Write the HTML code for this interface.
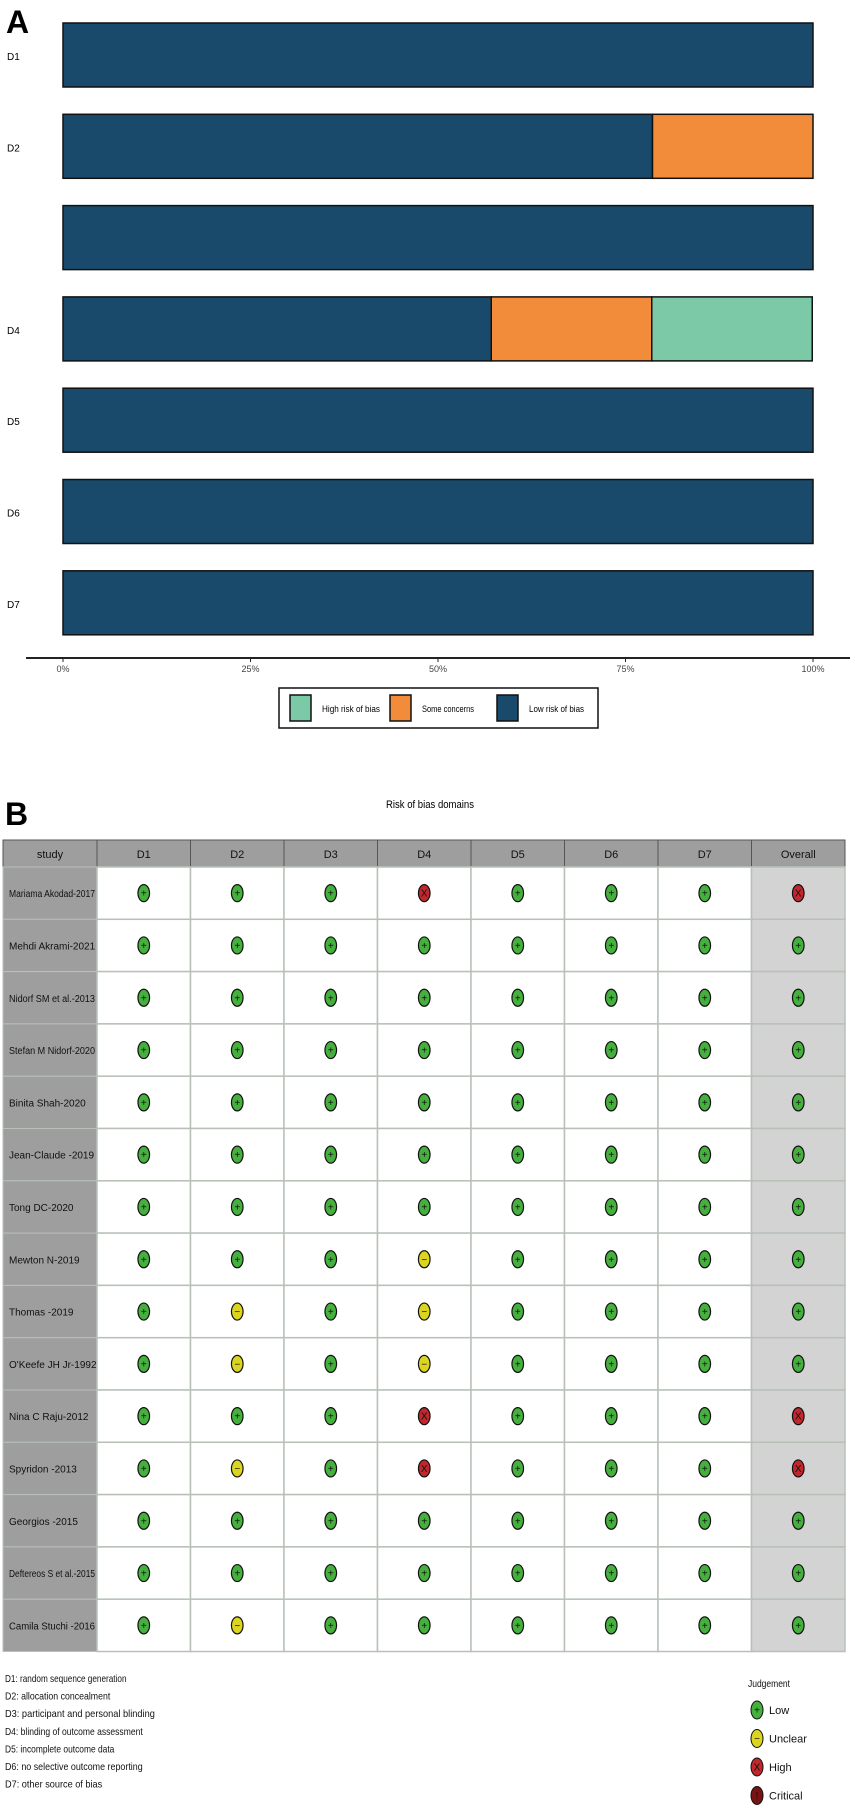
<!DOCTYPE html>
<html><head><meta charset="utf-8"><style>
html,body{margin:0;padding:0;background:#fff;}
svg{display:block;font-family:"Liberation Sans",sans-serif;}
</style></head><body>
<svg id="fig" width="855" height="1811" viewBox="0 0 855 1811" xmlns="http://www.w3.org/2000/svg">
<text x="6" y="33" font-size="32" font-weight="bold">A</text>
<g id="barsA"></g>
<line x1="26" y1="658" x2="850" y2="658" stroke="#222" stroke-width="2"/>
<g id="ticksA"></g>
<g>
<rect x="279" y="688" width="319" height="40" fill="#fff" stroke="#111" stroke-width="1.5"/>
<rect x="290" y="695" width="21" height="26" fill="#7cc9a8" stroke="#111" stroke-width="1.5"/>
<text x="322" y="712" font-size="9" textLength="58" lengthAdjust="spacingAndGlyphs">High risk of bias</text>
<rect x="390" y="695" width="21" height="26" fill="#f28b3a" stroke="#111" stroke-width="1.5"/>
<text x="422" y="712" font-size="9" textLength="52" lengthAdjust="spacingAndGlyphs">Some concerns</text>
<rect x="497" y="695" width="21" height="26" fill="#1a4a6b" stroke="#111" stroke-width="1.5"/>
<text x="529" y="712" font-size="9" textLength="55" lengthAdjust="spacingAndGlyphs">Low risk of bias</text>
</g>
<text x="5" y="825" font-size="32" font-weight="bold">B</text>
<text x="430" y="808" font-size="11" text-anchor="middle" textLength="88" lengthAdjust="spacingAndGlyphs">Risk of bias domains</text>
<g id="table"></g>
<g id="defs-legend"></g>
<g id="judge"></g>
</svg>
<script>
const NS="http://www.w3.org/2000/svg";
// Panel A data
const domainsA=["D1","D2","D3","D4","D5","D6","D7"];
const domainLabelsA=["D1","D2","","D4","D5","D6","D7"];
const lowPct=[100,78.6,100,57.1,100,100,100];
const somePct=[0,21.4,0,21.4,0,0,0];
const highPct=[0,0,0,21.4,0,0,0];
const tickVals=[0,25,50,75,100];
const tickLabels=["0%","25%","50%","75%","100%"];
// Panel B data
const studies=["Mariama Akodad-2017","Mehdi Akrami-2021","Nidorf SM  et al.-2013","Stefan M Nidorf-2020","Binita Shah-2020","Jean-Claude -2019","Tong DC-2020","Mewton N-2019","Thomas -2019","O'Keefe JH Jr-1992","Nina C Raju-2012","Spyridon -2013","Georgios -2015","Deftereos S et al.-2015","Camila Stuchi -2016"];
const columns=["D1","D2","D3","D4","D5","D6","D7","Overall"];
const judgements=[
"LLLHLLLH","LLLLLLLL","LLLLLLLL","LLLLLLLL","LLLLLLLL","LLLLLLLL","LLLLLLLL",
"LLLULLLL","LULULLLL","LULULLLL","LLLHLLLH","LULHLLLH","LLLLLLLL","LLLLLLLL","LULLLLLL"];
const defs=["D1: random sequence generation","D2: allocation concealment","D3: participant and personal blinding","D4: blinding of outcome assessment","D5: incomplete outcome data","D6: no selective outcome reporting","D7: other source of bias"];
const judgeKeys=["L","U","H","C"];
const judgeNames=["Low","Unclear","High","Critical"];
const col={L:"#45b03d",U:"#dcd51f",H:"#c1272d",C:"#7a1414"};
const sym={L:"+",U:"−",H:"X",C:"!"};

function el(tag,attrs,parent,txt){const e=document.createElementNS(NS,tag);for(const k in attrs)e.setAttribute(k,attrs[k]);if(txt!==undefined)e.textContent=txt;parent.appendChild(e);return e;}
const xA=v=>63+v/100*750;
const yA=i=>23+i*91.3;
const barsA=document.getElementById("barsA");
domainsA.forEach((d,i)=>{
  const y=yA(i);
  const t=el("text",{x:7,y:y+37,"font-size":10},barsA,domainLabelsA[i]);
  
  
  let acc=0;
  [[lowPct[i],"#1a4a6b","low"],[somePct[i],"#f28b3a","some"],[highPct[i],"#7cc9a8","high"]].forEach(([v,c,n])=>{
    if(v<=0)return;
    const r=el("rect",{x:xA(acc),y:y,width:xA(acc+v)-xA(acc),height:64,fill:c,stroke:"#111","stroke-width":1.5},barsA);
    
    
    acc+=v;
  });
});
const ticksA=document.getElementById("ticksA");
tickVals.forEach((v,i)=>{
  const l=el("line",{x1:xA(v),y1:658,x2:xA(v),y2:662,stroke:"#222"},ticksA);
  
  
  const t=el("text",{x:xA(v),y:672,"font-size":9,"text-anchor":"middle",fill:"#444"},ticksA,tickLabels[i]);
  
  
});
// Table
const tb=document.getElementById("table");
const colX=i=>97+i*93.5;
const cw=93.5, tblTop=840, hh=27, rh=52.3;
const rowY=r=>tblTop+hh+r*rh;
const h0=el("rect",{x:3,y:tblTop,width:94,height:hh,fill:"#9e9e9e",stroke:"#555"},tb);


el("text",{x:50,y:tblTop+18,"font-size":11,"text-anchor":"middle",fill:"#111"},tb,"study");
columns.forEach((c,i)=>{
  const r=el("rect",{x:colX(i),y:tblTop,width:cw,height:hh,fill:"#9e9e9e",stroke:"#555"},tb);
  
  
  el("text",{x:colX(i)+cw/2,y:tblTop+18,"font-size":11,"text-anchor":"middle",fill:"#111"},tb,c);
});
studies.forEach((s,r)=>{
  const y=rowY(r);
  const sc=el("rect",{x:3,y:y,width:94,height:rh,fill:"#9e9e9e",stroke:"#b8c0b8"},tb);
  
  
  const attrs={x:9,y:y+rh/2+4,"font-size":10,fill:"#111"};
  if(s.length>18){attrs.textLength=86;attrs.lengthAdjust="spacingAndGlyphs";}
  const st=el("text",attrs,tb,s);
  
  
  columns.forEach((c,i)=>{
    const cell=el("rect",{x:colX(i),y:y,width:cw,height:rh,fill:i===7?"#d3d3d3":"#fff",stroke:"#b8c0b8","stroke-width":1.5},tb);
    
    
  });
  columns.forEach((c,i)=>{
    const j=judgements[r][i];
    const cx=colX(i)+cw/2, cy=y+rh/2;
    const e=el("ellipse",{cx:cx,cy:cy,rx:5.8,ry:8.5,fill:col[j],stroke:"#111","stroke-width":1.2},tb);
    
    
    el("text",{x:cx,y:cy+3.5,"font-size":10,"text-anchor":"middle",fill:"#111"},tb,sym[j]);
  });
});
// definitions
const dg=document.getElementById("defs-legend");
defs.forEach((d,i)=>{
  const t=el("text",{x:5,y:1682+i*17.6,"font-size":10.5,fill:"#111",textLength:d.length*4.05,lengthAdjust:"spacingAndGlyphs"},dg,d);
  
  
});
const jg=document.getElementById("judge");
el("text",{x:748,y:1687,"font-size":10.5,fill:"#111",textLength:42,lengthAdjust:"spacingAndGlyphs"},jg,"Judgement");
judgeKeys.forEach((k,i)=>{
  const cy=1710+i*28.5;
  const e=el("ellipse",{cx:757,cy:cy,rx:6,ry:9,fill:col[k],stroke:"#111","stroke-width":1},jg);
  
  
  el("text",{x:757,y:cy+3.5,"font-size":10,"text-anchor":"middle",fill:"#111"},jg,sym[k]);
  el("text",{x:769,y:cy+4,"font-size":11,fill:"#111"},jg,judgeNames[i]);
});
</script>
</body></html>
